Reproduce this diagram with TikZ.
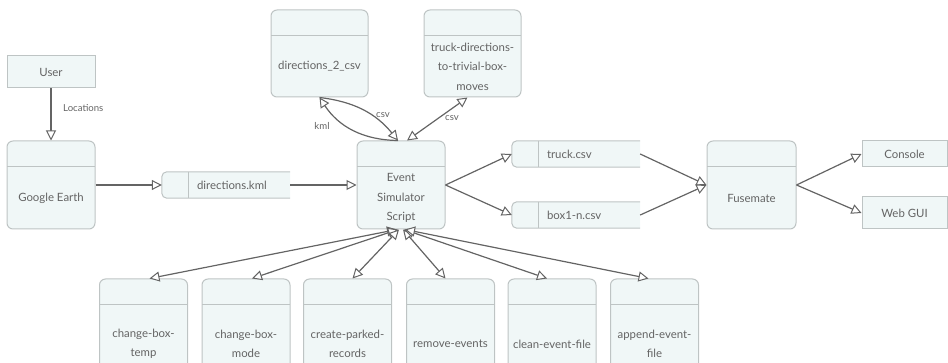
\documentclass[tikz,border=0pt]{standalone}
\usepackage{fontspec}
\setmainfont{Lato}
\usetikzlibrary{arrows.meta}
\definecolor{bf}{RGB}{240,247,247}
\definecolor{bd}{RGB}{190,196,196}
\definecolor{tx}{RGB}{100,100,100}
\definecolor{ar}{RGB}{100,100,100}
\tikzset{
  boxfont/.style={font=\fontsize{11.4}{19.5}\selectfont, text=tx},
  rbox/.style={draw=bd, fill=bf, rounded corners=6pt, line width=1pt, inner sep=0pt,
    path picture={\draw[bd, line width=1pt] ([yshift=-26pt]path picture bounding box.north west) -- ([yshift=-26pt]path picture bounding box.north east);}},
  sbox/.style={draw=bd, fill=bf, line width=1pt, inner sep=0pt, boxfont},
  ds/.style={inner sep=0pt, minimum width=128pt, minimum height=26pt},
  dsline/.style={draw=bd, fill=bf, line width=1pt, rounded corners=5pt},
  btext/.style={boxfont, align=center, inner sep=0pt},
  small/.style={font=\fontsize{9.6}{11}\selectfont, text=tx, inner sep=0pt},
  tip/.tip={Triangle[open, length=10pt, width=10pt, line width=1pt, fill=white]},
  arr/.style={draw=ar, line width=1.2pt, -tip},
  dbl/.style={draw=ar, line width=1.2pt, tip-tip},
}
\begin{document}
\begin{tikzpicture}[x=1pt,y=-1pt]
\useasboundingbox (0,0) rectangle (948,363);
\clip (0,0) rectangle (948,363);
% simple boxes
\node[sbox, minimum width=88pt, minimum height=32pt] (user) at (51,72) {User};
\node[sbox, minimum width=85pt, minimum height=26pt] (console) at (904.5,154) {Console};
\node[sbox, minimum width=85pt, minimum height=32pt] (webgui) at (904.5,213) {Web GUI};
% rounded boxes
\node[rbox, minimum width=88pt, minimum height=88pt] (ge) at (51,185) {};
\node[btext] (ge-t) at ([yshift=-13pt]ge.center) {Google Earth};
\node[rbox, minimum width=97pt, minimum height=87pt] (d2c) at (319.5,53.5) {};
\node[btext] (d2c-t) at ([yshift=-13pt]d2c.center) {directions\_2\_csv};
\node[rbox, minimum width=97pt, minimum height=87pt] (tdt) at (472.5,53.5) {};
\node[btext] (tdt-t) at ([yshift=-13pt]tdt.center) {truck-directions-\\to-trivial-box-\\moves};
\node[rbox, minimum width=88pt, minimum height=88pt] (es) at (401,185) {};
\node[btext] (es-t) at ([yshift=-13pt]es.center) {Event\\Simulator\\Script};
\node[rbox, minimum width=89pt, minimum height=88pt] (fm) at (751.5,185) {};
\node[btext] (fm-t) at ([yshift=-13pt]fm.center) {Fusemate};
% bottom row
\foreach \n/\x/\t in {cbt/143.5/{change-box-\\temp}, cbm/246/{change-box-\\mode}, cpr/347.5/{create-parked-\\records}, rev/450.5/{remove-events}, cef/552/{clean-event-file}, aef/654.5/{append-event-\\file}}{
  \node[rbox, minimum width=88pt, minimum height=104pt] (\n) at (\x,331) {};
  \node[btext] (\n-t) at ([yshift=-13pt]\n.center) {\t};
}
% data stores
\foreach \n/\x/\y/\t in {kml/226/185/directions.kml, tcsv/576/154/truck.csv, bcsv/576/215/box1-n.csv}{
  \node[ds] (\n) at (\x,\y) {};
  \path[dsline] (\n.north east) -- (\n.north west) -- (\n.south west) -- (\n.south east);
  \draw[bd, line width=1pt] ([xshift=27pt]\n.north west) -- ([xshift=27pt]\n.south west);
  \node[btext, anchor=west] (\n-t) at ([xshift=35pt]\n.west) {\t};
}
% connectors
\draw[arr] (user) -- (ge);
\node[small, anchor=west] (loc) at (63,108) {Locations};
\draw[arr] (ge.east) -- (kml.west);
\draw[arr] (kml.east) -- (es.west);
\draw[arr] ([xshift=-3pt]es.north) to[bend left=28] (d2c.south);
\draw[arr] (d2c.south) to[bend left=22] ([xshift=-3pt]es.north);
\node[small] (kmll) at (322,126) {kml};
\node[small] (csv1) at (383,115) {csv};
\draw[dbl] ([xshift=6pt]es.north) -- ([xshift=-5pt]tdt.south);
\node[small] (csv2) at (452,118) {csv};
\draw[arr] (es.east) -- (tcsv.west);
\draw[arr] (es.east) -- (bcsv.west);
\draw[arr] (tcsv.east) -- (fm.west);
\draw[arr] (bcsv.east) -- (fm.west);
\draw[arr] (fm.east) -- (console.west);
\draw[arr] (fm.east) -- (webgui.west);
\draw[dbl] ([xshift=-4pt]es.south) -- ([xshift=6pt]cbt.north);
\draw[dbl] ([xshift=-3pt]es.south) -- ([xshift=6pt]cbm.north);
\draw[dbl] ([xshift=-2pt]es.south) -- ([xshift=5pt]cpr.north);
\draw[dbl] ([xshift=2pt]es.south) -- ([xshift=-5pt]rev.north);
\draw[dbl] ([xshift=3pt]es.south) -- ([xshift=-5pt]cef.north);
\draw[dbl] ([xshift=4pt]es.south) -- ([xshift=-6pt]aef.north);
\end{tikzpicture}
\end{document}
